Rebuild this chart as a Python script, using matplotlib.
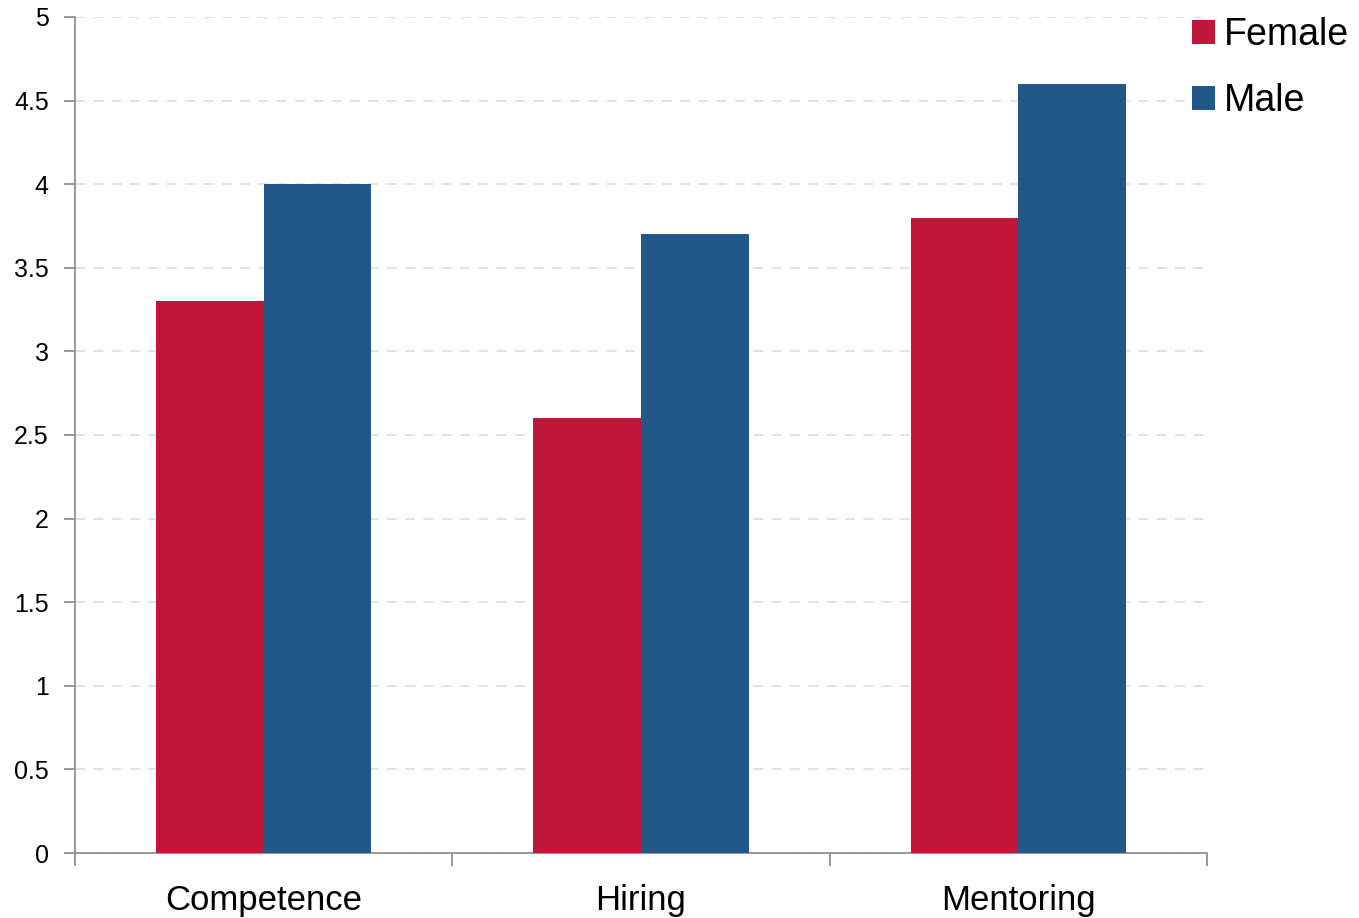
import numpy as np
import matplotlib.pyplot as plt

categories = ['Competence', 'Hiring', 'Mentoring']
female = [3.3, 2.6, 3.8]
male = [4.0, 3.7, 4.6]
yticks = [0, 0.5, 1, 1.5, 2, 2.5, 3, 3.5, 4, 4.5, 5]
ytick_labels = ['0', '0.5', '1', '1.5', '2', '2.5', '3', '3.5', '4', '4.5', '5']

plt.rcParams['font.family'] = ['Liberation Sans', 'DejaVu Sans']

fig = plt.figure(figsize=(13.59, 9.18), dpi=100)
ax = fig.add_axes([0.0552, 0.0708, 0.8330, 0.9107])

x = np.arange(len(categories))
w = 0.285
ax.bar(x - w / 2, female, w, color='#C0163A', label='Female', zorder=3)
ax.bar(x + w / 2, male, w, color='#215789', label='Male', zorder=3)

ax.set_xlim(-0.5, len(categories) - 0.5)
ax.set_ylim(0, 5)
ax.set_yticks(yticks)
ax.set_yticklabels(ytick_labels, fontsize=18)
ax.set_xticks(x)
ax.set_xticklabels(categories, fontsize=25)
ax.set_xticks(np.arange(len(categories) + 1) - 0.5, minor=True)
ax.tick_params(axis='x', which='major', length=0, pad=22)
ax.tick_params(axis='x', which='minor', length=9, color='#888888', width=1.2)
ax.tick_params(axis='y', length=8, color='#888888', width=1.2, pad=11)

ax.grid(axis='y', color='#E0DDD8', linestyle=(0, (6, 5)), linewidth=1.2, zorder=0)
for s in ['top', 'right']:
    ax.spines[s].set_visible(False)
for s in ['left', 'bottom']:
    ax.spines[s].set_color('#888888')
    ax.spines[s].set_linewidth(1.2)

ax.legend(loc='upper left', bbox_to_anchor=(0.957, 1.04), frameon=False, fontsize=27,
          handlelength=0.6, handleheight=0.6, handletextpad=0.25, labelspacing=0.8)

fig.savefig('out.png', dpi=100)
